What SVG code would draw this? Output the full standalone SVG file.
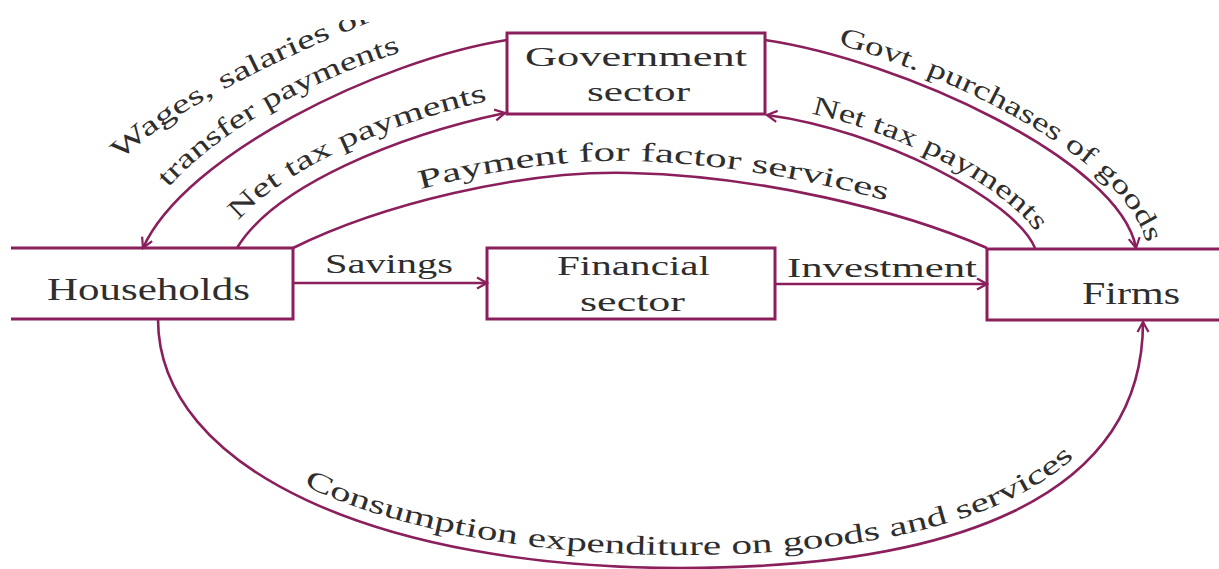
<svg xmlns="http://www.w3.org/2000/svg" xmlns:xlink="http://www.w3.org/1999/xlink" width="1219" height="569" viewBox="0 0 1219 569">
<style>
.box{fill:none;stroke:#8a1f5c;stroke-width:3}
.conn{fill:none;stroke:#8a1f5c;stroke-width:2.6}
.txt{font-family:"Liberation Serif","Times New Roman",serif;fill:#2e2e2e;text-anchor:middle}
.nodeLbl{font-size:31px}
.lbl{font-size:27px}
</style>
<defs>
<marker id="arr" markerUnits="userSpaceOnUse" markerWidth="14" markerHeight="14" viewBox="0 0 14 14" refX="12" refY="7" orient="auto">
<path d="M2,1.5 L12,7 L2,12.5" fill="none" stroke="#8a1f5c" stroke-width="2.2"/>
</marker>
<clipPath id="clipTop"><rect x="0" y="20" width="1219" height="549"/></clipPath>
<path id="pW1" d="M100,185 C140,125 260,65 400,10"/>
<path id="pW2" d="M140,230 C175,150 330,55 505,27"/>
<path id="pNL" d="M224,240 C263,174 394,119.5 502,98"/>
<path id="pPF" d="M293,236 C380,193 520,158 630,161 C760,164 900,198 987,236"/>
<path id="pNR" d="M768,106 C885,120 1023,193 1043,245"/>
<path id="pGP" d="M766.6,29.1 C904.2,48.6 1129.7,152.7 1146.8,246"/>
<path id="pCE" d="M170,330 C170,458 386,555 680,555 C940,555 1131,490 1131,330"/>
</defs>
<rect width="1219" height="569" fill="#ffffff"/>
<g clip-path="url(#clipTop)">
<g id="connectors">
<path id="c-wages" class="conn" d="M507,40 C380,60 185,155 143,248" marker-end="url(#arr)"/>
<path id="c-nettax-left" class="conn" d="M237,248 C275,185 400,135 505,113" marker-end="url(#arr)"/>
<path id="c-factor" class="conn" d="M293,248 C380,205 520,170 630,173 C760,176 900,210 987,248"/>
<path id="c-nettax-right" class="conn" d="M1035,248 C1015,200 880,130 767,115" marker-end="url(#arr)"/>
<path id="c-govt" class="conn" d="M765,40 C900,60 1120,160 1136,248" marker-end="url(#arr)"/>
<path id="c-savings" class="conn" d="M293,283 L487,283" marker-end="url(#arr)"/>
<path id="c-investment" class="conn" d="M775,284 L987,284" marker-end="url(#arr)"/>
<path id="c-consumption" class="conn" d="M158,319 C158,470 380,568 680,568 C950,568 1143,500 1143,322" marker-end="url(#arr)"/>
<g class="txt lbl">
<text><textPath xlink:href="#pW1" href="#pW1" startOffset="176" textLength="288" lengthAdjust="spacingAndGlyphs">Wages, salaries of</textPath></text>
<text><textPath xlink:href="#pW2" href="#pW2" startOffset="187" textLength="272" lengthAdjust="spacingAndGlyphs">transfer payments</textPath></text>
<text><textPath xlink:href="#pNL" href="#pNL" startOffset="164" textLength="280" lengthAdjust="spacingAndGlyphs">Net tax payments</textPath></text>
<text><textPath xlink:href="#pPF" href="#pPF" startOffset="372" textLength="472" lengthAdjust="spacingAndGlyphs">Payment for factor services</textPath></text>
<text><textPath xlink:href="#pNR" href="#pNR" startOffset="173" textLength="258" lengthAdjust="spacingAndGlyphs">Net tax payments</textPath></text>
<text><textPath xlink:href="#pGP" href="#pGP" startOffset="262" textLength="378" lengthAdjust="spacingAndGlyphs">Govt. purchases of goods</textPath></text>
<text><textPath xlink:href="#pCE" href="#pCE" startOffset="616" textLength="800" lengthAdjust="spacingAndGlyphs">Consumption expenditure on goods and services</textPath></text>
<text x="389" y="273" textLength="128" lengthAdjust="spacingAndGlyphs">Savings</text>
<text x="882" y="277" textLength="190" lengthAdjust="spacingAndGlyphs">Investment</text>
</g>
</g>
<g id="node-households">
<path class="box" d="M11,248 H293 V319 H11"/>
<text class="txt nodeLbl" x="148.5" y="300" textLength="203" lengthAdjust="spacingAndGlyphs">Households</text>
</g>
<g id="node-financial">
<rect class="box" x="487" y="248" width="288" height="71"/>
<text class="txt lbl" x="633.5" y="275" textLength="153" lengthAdjust="spacingAndGlyphs">Financial</text>
<text class="txt lbl" x="632.5" y="311" textLength="105" lengthAdjust="spacingAndGlyphs">sector</text>
</g>
<g id="node-firms">
<path class="box" d="M1219,249 H987 V320 H1219"/>
<text class="txt nodeLbl" x="1131" y="304" textLength="98" lengthAdjust="spacingAndGlyphs">Firms</text>
</g>
<g id="node-government">
<rect class="box" x="507" y="33" width="258" height="81"/>
<text class="txt lbl" x="636" y="66" textLength="222" lengthAdjust="spacingAndGlyphs">Government</text>
<text class="txt lbl" x="638.5" y="101" textLength="103" lengthAdjust="spacingAndGlyphs">sector</text>
</g>
</g>
</svg>
